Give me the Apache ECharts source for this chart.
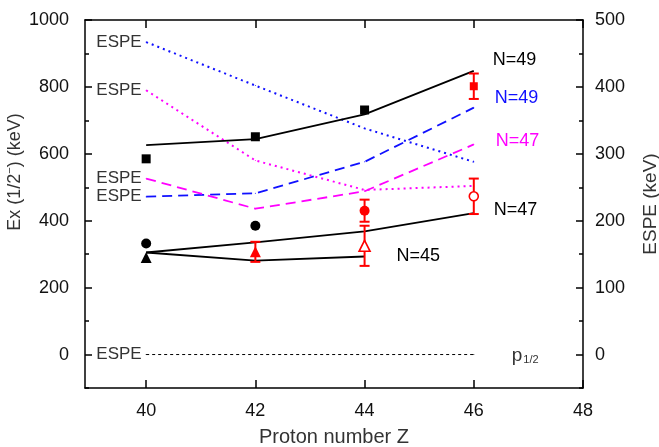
<!DOCTYPE html>
<html>
<head>
<meta charset="utf-8">
<script src="https://cdn.jsdelivr.net/npm/echarts@6/dist/echarts.min.js"></script>
<style>
html,body{margin:0;padding:0;background:#fff;}
#chart{width:659px;height:447px;}
</style>
</head>
<body>
<div id="chart"></div>
<script>
// ---- data ----
const zTicks = [40, 42, 44, 46, 48];
const leftTicks = [0, 200, 400, 600, 800, 1000];
const rightTicks = [0, 100, 200, 300, 400, 500];
const zCalc = [40, 42, 44, 46];
const zCalcN45 = [40, 42, 44];
// calculated Ex(1/2-) (keV), left axis
const calcN49 = [626, 644, 718, 848];
const calcN47 = [305, 335, 368, 423];
const calcN45 = [305, 281, 293];
// ESPE (keV), right axis
const espeN49Dashed = [236, 241, 288, 369];
const espeN47Dashed = [263, 218, 244, 314];
const espeN49Dotted = [467, 402, 338, 288];
const espeN47Dotted = [395, 290, 246, 252];
const espeP12 = [0, 0, 0, 0];
// experimental points (left axis)
const sqBlackZ = [40, 42, 44];      const sqBlackV = [585, 651, 731];
const sqRedZ = [46];                const sqRedV = [802];   const sqRedErr = [38];
const circBlackZ = [40, 42];        const circBlackV = [332, 385];
const circRedZ = [44];              const circRedV = [430]; const circRedErr = [33];
const circOpenZ = [46];             const circOpenV = [473]; const circOpenErr = [53];
const triBlackZ = [40];             const triBlackV = [290];
const triRedZ = [42];               const triRedV = [307];  const triRedErr = [30];
const triOpenZ = [44];              const triOpenV = [325]; const triOpenErr = [60];

const FONT = "'Liberation Sans', Arial, sans-serif";
const zip = (xs, ys) => xs.map((x, i) => [x, ys[i]]);
const plain = v => String(v);

function errData(zs, vs, es) {
  return zs.map((z, i) => [z, vs[i] - es[i], vs[i] + es[i]]);
}
const errAll = [].concat(
  errData(sqRedZ, sqRedV, sqRedErr),
  errData(circRedZ, circRedV, circRedErr),
  errData(circOpenZ, circOpenV, circOpenErr),
  errData(triRedZ, triRedV, triRedErr),
  errData(triOpenZ, triOpenV, triOpenErr)
);

function espeStart(zs, vs) {
  return zs.map((z, i) => i === 0
    ? { value: [z, vs[i]], label: { show: true, position: 'left', distance: 4, formatter: 'ESPE', color: '#333', fontSize: 17, fontFamily: FONT } }
    : { value: [z, vs[i]] });
}

function calcLine(zs, vs, name, offset) {
  return {
    type: 'line', xAxisIndex: 0, yAxisIndex: 0, data: zip(zs, vs), symbol: 'none',
    lineStyle: { color: '#000', width: 1.8 }, itemStyle: { color: '#000' }, z: 3,
    endLabel: { show: true, formatter: name, color: '#000', fontSize: 18, fontFamily: FONT, offset: offset }
  };
}
function espeLine(vs, color, dash, width, endName, endOffset, endColor) {
  const s = {
    type: 'line', xAxisIndex: 0, yAxisIndex: 1, data: espeStart(zCalc, vs),
    symbol: 'circle', symbolSize: 1, showSymbol: true,
    itemStyle: { color: color }, z: 2,
    lineStyle: { color: color, width: width, type: dash }
  };
  if (endName) {
    s.endLabel = { show: true, formatter: endName, color: endColor || color, fontSize: 18, fontFamily: FONT, offset: endOffset,
      rich: { s: { fontSize: 11, fontFamily: FONT, color: '#333', padding: [8, 0, 0, 1] }, p: { fontSize: 19, fontFamily: FONT, color: '#333' } } };
  }
  return s;
}
function scatter(zs, vs, symbol, size, fill, stroke) {
  return {
    type: 'scatter', xAxisIndex: 0, yAxisIndex: 0, data: zip(zs, vs), symbol: symbol, symbolSize: size, z: 5,
    itemStyle: { color: fill, borderColor: stroke || fill, borderWidth: stroke ? 1.6 : 0, opacity: 1 }
  };
}

const axisLineStyle = { color: '#000', width: 1.5 };
const option = {
  animation: false,
  backgroundColor: '#fff',
  grid: { left: 85, right: 76, top: 20, bottom: 59, containLabel: false, outerBoundsMode: 'none' },
  xAxis: [
    { type: 'value', min: 38.88, max: 48, position: 'bottom',
      axisLine: { onZero: false, lineStyle: axisLineStyle },
      axisTick: { inside: true, length: 8, customValues: zTicks, lineStyle: axisLineStyle },
      axisLabel: { customValues: zTicks, formatter: plain, fontSize: 18, color: '#111', margin: 14, fontFamily: FONT },
      splitLine: { show: false },
      name: 'Proton number Z', nameLocation: 'middle', nameGap: 39, nameMoveOverlap: false,
      nameTextStyle: { fontSize: 20, color: '#333', fontFamily: FONT } },
    { type: 'value', min: 38.88, max: 48, position: 'top',
      axisLine: { onZero: false, lineStyle: axisLineStyle },
      axisTick: { inside: true, length: 8, customValues: zTicks, lineStyle: axisLineStyle },
      axisLabel: { show: false }, splitLine: { show: false } }
  ],
  yAxis: [
    { type: 'value', min: -100, max: 1000, position: 'left',
      axisLine: { show: true, onZero: false, lineStyle: axisLineStyle },
      axisTick: { show: true, inside: true, length: 7, customValues: leftTicks, lineStyle: axisLineStyle },
      axisLabel: { customValues: leftTicks, formatter: plain, fontSize: 18, color: '#111', margin: 16, fontFamily: FONT },
      splitLine: { show: false },
      name: '{a|Ex (1/2}{s|−}{a|) (keV)}', nameLocation: 'middle', nameGap: 59, nameMoveOverlap: false,
      nameTextStyle: { color: '#333', fontSize: 18, fontFamily: FONT, padding: [0, 0, 0, 64],
        rich: { a: { fontSize: 18, fontFamily: FONT, color: '#333', lineHeight: 22 },
                s: { fontSize: 11, fontFamily: FONT, color: '#333', verticalAlign: 'top', lineHeight: 22, padding: [0, 0, 8, 0] } } } },
    { type: 'value', min: -50, max: 500, position: 'right',
      axisLine: { show: true, onZero: false, lineStyle: axisLineStyle },
      axisTick: { show: true, inside: true, length: 7, customValues: rightTicks, lineStyle: axisLineStyle },
      axisLabel: { customValues: rightTicks, formatter: plain, fontSize: 18, color: '#111', margin: 12, fontFamily: FONT },
      splitLine: { show: false },
      name: 'ESPE (keV)', nameLocation: 'middle', nameGap: 58,
      nameTextStyle: { color: '#333', fontSize: 19, fontFamily: FONT } },
    { type: 'value', min: -100, max: 1000, interval: 100, position: 'left',
      axisLine: { show: false, onZero: false }, axisLabel: { show: false }, splitLine: { show: false },
      axisTick: { show: true, inside: true, length: 4, lineStyle: axisLineStyle } },
    { type: 'value', min: -50, max: 500, interval: 50, position: 'right',
      axisLine: { show: false, onZero: false }, axisLabel: { show: false }, splitLine: { show: false },
      axisTick: { show: true, inside: true, length: 4, lineStyle: axisLineStyle } }
  ],
  series: [
    calcLine(zCalc, calcN49, 'N=49', [11, -11]),
    calcLine(zCalc, calcN47, 'N=47', [12, -3]),
    calcLine(zCalcN45, calcN45, 'N=45', [24, 0]),
    espeLine(espeN49Dashed, '#1010ff', [10, 6], 1.8, 'N=49', [13, -10]),
    espeLine(espeN47Dashed, '#ff00ff', [10, 6], 1.8, 'N=47', [14, -3]),
    espeLine(espeN49Dotted, '#1010ff', [2, 4], 2, null),
    espeLine(espeN47Dotted, '#ff00ff', [2, 4], 2, null),
    espeLine(espeP12, '#000', [3, 3], 1, '{p|p}{s|1/2}', [30, 1], '#333'),
    {
      type: 'custom', xAxisIndex: 0, yAxisIndex: 0, data: errAll, z: 4,
      encode: { x: 0, y: [1, 2] },
      renderItem: function (params, api) {
        const lo = api.coord([api.value(0), api.value(1)]);
        const hi = api.coord([api.value(0), api.value(2)]);
        const w = 5;
        const st = { stroke: '#f00', lineWidth: 2 };
        return { type: 'group', children: [
          { type: 'line', shape: { x1: lo[0], y1: lo[1], x2: hi[0], y2: hi[1] }, style: st },
          { type: 'line', shape: { x1: lo[0] - w, y1: lo[1], x2: lo[0] + w, y2: lo[1] }, style: st },
          { type: 'line', shape: { x1: hi[0] - w, y1: hi[1], x2: hi[0] + w, y2: hi[1] }, style: st }
        ] };
      }
    },
    scatter(sqBlackZ, sqBlackV, 'rect', 9, '#000'),
    scatter(sqRedZ, sqRedV, 'rect', 8, '#f00'),
    scatter(circBlackZ, circBlackV, 'circle', 10, '#000'),
    scatter(circRedZ, circRedV, 'circle', 10, '#f00'),
    scatter(circOpenZ, circOpenV, 'circle', 9, '#fff', '#f00'),
    scatter(triBlackZ, triBlackV, 'triangle', 11, '#000'),
    scatter(triRedZ, triRedV, 'triangle', 11, '#f00'),
    scatter(triOpenZ, triOpenV, 'triangle', 11, '#fff', '#f00')
  ]
};
const chart = echarts.init(document.getElementById('chart'), null, { renderer: 'canvas' });
chart.setOption(option);
</script>
</body>
</html>
